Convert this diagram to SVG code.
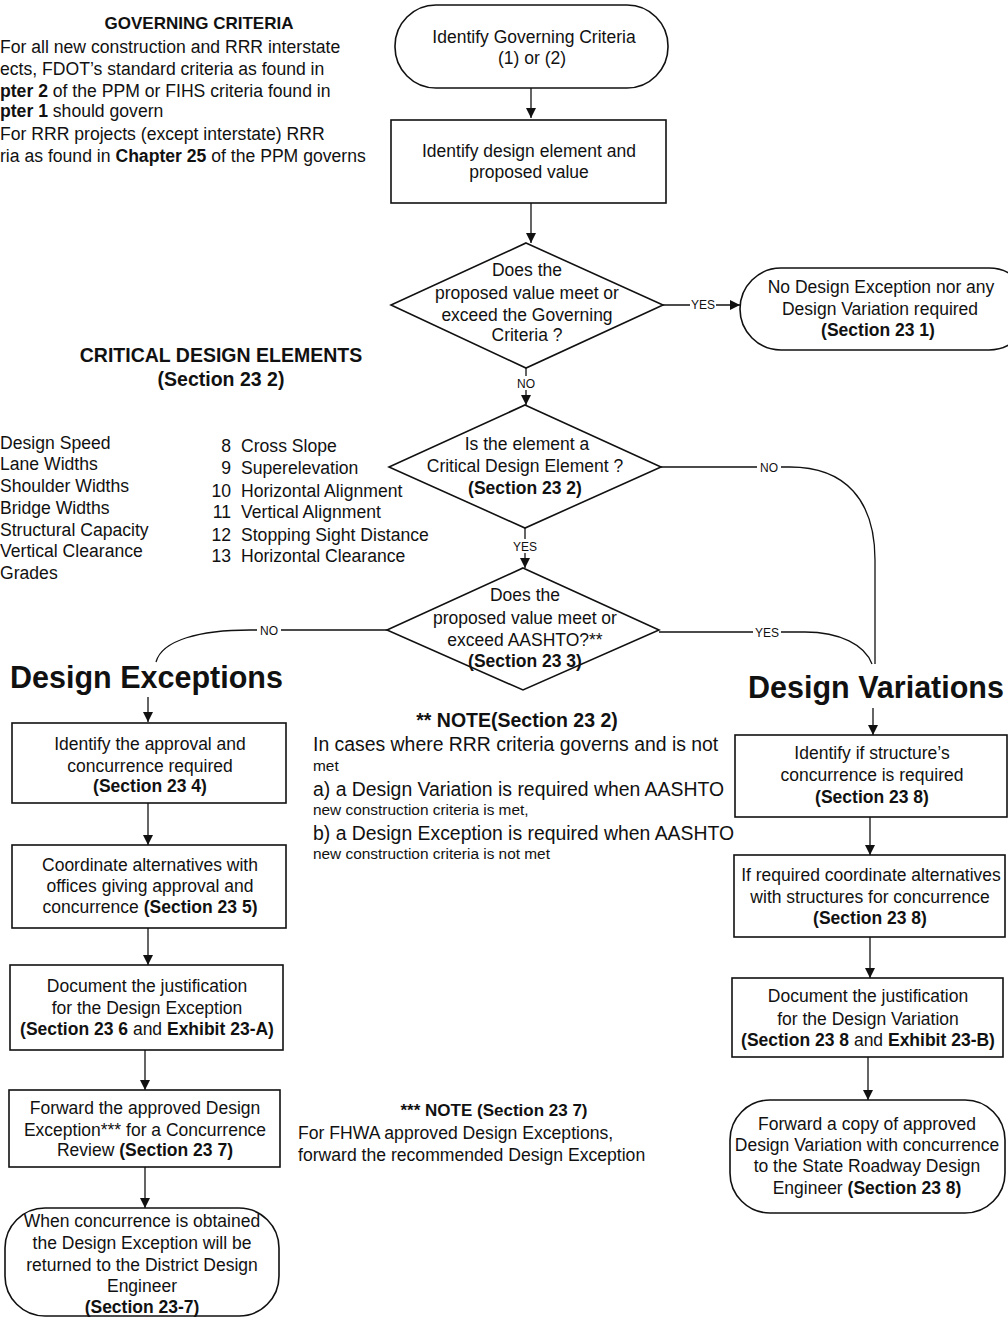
<svg xmlns="http://www.w3.org/2000/svg" width="1008" height="1318" viewBox="0 0 1008 1318">
<style>
text{font-family:"Liberation Sans",Arial,sans-serif;fill:#111;}
.n{font-size:17.5px;text-anchor:middle;}
.b{font-weight:bold;}
.h{font-size:17px;font-weight:bold;text-anchor:middle;}
.h2{font-size:19.5px;font-weight:bold;text-anchor:middle;}
.big{font-size:30.5px;font-weight:bold;}
.l{font-size:17.6px;}
.nl{font-size:19.4px;}
.s{font-size:15.4px;}
.lab{font-size:12px;text-anchor:middle;}
.box{fill:#fff;stroke:#111;stroke-width:1.6;}
.c{fill:none;stroke:#111;stroke-width:1.3;}
</style>
<defs>
<marker id="ah" viewBox="0 0 10 10" refX="10" refY="5" markerWidth="10" markerHeight="10" markerUnits="userSpaceOnUse" orient="auto">
<path d="M0,0 L10,5 L0,10 z" fill="#111"/>
</marker>
</defs>
<rect width="1008" height="1318" fill="#fff"/>

<g id="governing-criteria">
<text class="h" x="199" y="29">GOVERNING CRITERIA</text>
<text class="l" x="0" y="53">For all new construction and RRR interstate</text>
<text class="l" x="0" y="75">ects, FDOT’s standard criteria as found in</text>
<text class="l" x="0" y="97"><tspan class="b">pter 2</tspan>  of the PPM  or FIHS criteria found in</text>
<text class="l" x="0" y="117"><tspan class="b">pter 1</tspan> should govern</text>
<text class="l" x="0" y="140">For RRR projects (except interstate)  RRR</text>
<text class="l" x="0" y="162">ria as found in <tspan class="b">Chapter 25</tspan>  of the PPM governs</text>
</g>

<g id="critical-elements">
<text class="h2" x="221" y="362">CRITICAL DESIGN ELEMENTS</text>
<text class="h2" x="221" y="386">(Section 23 2)</text>
<text class="l" x="0" y="449">Design Speed</text>
<text class="l" x="0" y="470">Lane Widths</text>
<text class="l" x="0" y="492">Shoulder Widths</text>
<text class="l" x="0" y="514">Bridge Widths</text>
<text class="l" x="0" y="536">Structural Capacity</text>
<text class="l" x="0" y="557">Vertical Clearance</text>
<text class="l" x="0" y="579">Grades</text>
<text class="l" x="231" y="452" text-anchor="end">8</text><text class="l" x="241" y="452">Cross Slope</text>
<text class="l" x="231" y="474" text-anchor="end">9</text><text class="l" x="241" y="474">Superelevation</text>
<text class="l" x="231" y="497" text-anchor="end">10</text><text class="l" x="241" y="497">Horizontal Alignment</text>
<text class="l" x="231" y="518" text-anchor="end">11</text><text class="l" x="241" y="518">Vertical Alignment</text>
<text class="l" x="231" y="541" text-anchor="end">12</text><text class="l" x="241" y="541">Stopping Sight Distance</text>
<text class="l" x="231" y="562" text-anchor="end">13</text><text class="l" x="241" y="562">Horizontal Clearance</text>
</g>

<g id="connectors">
<path class="c" d="M531,88 V118" marker-end="url(#ah)"/>
<path class="c" d="M531,203 V243" marker-end="url(#ah)"/>
<path class="c" d="M663,305 H740" marker-end="url(#ah)"/>
<path class="c" d="M526,368 V405" marker-end="url(#ah)"/>
<path class="c" d="M525,528 V568" marker-end="url(#ah)"/>
<path class="c" d="M661,467 H790 C845,467 875,500 875,560 V664"/>
<path class="c" d="M659,632 H805 C840,632 865,645 872,664"/>
<path class="c" d="M387,630 H250 C200,630 162,640 156,662"/>
<path class="c" d="M148,697 V722" marker-end="url(#ah)"/>
<path class="c" d="M148,803 V845" marker-end="url(#ah)"/>
<path class="c" d="M148,928 V965" marker-end="url(#ah)"/>
<path class="c" d="M145,1050 V1090" marker-end="url(#ah)"/>
<path class="c" d="M145,1167 V1208" marker-end="url(#ah)"/>
<path class="c" d="M873,708 V735" marker-end="url(#ah)"/>
<path class="c" d="M870,817 V855" marker-end="url(#ah)"/>
<path class="c" d="M870,937 V978" marker-end="url(#ah)"/>
<path class="c" d="M868,1057 V1100" marker-end="url(#ah)"/>
<rect x="690" y="298" width="26" height="14" fill="#fff"/>
<text class="lab" x="703" y="309">YES</text>
<rect x="514" y="376" width="24" height="14" fill="#fff"/>
<text class="lab" x="526" y="388">NO</text>
<rect x="512" y="539" width="26" height="14" fill="#fff"/>
<text class="lab" x="525" y="551">YES</text>
<rect x="757" y="460" width="24" height="14" fill="#fff"/>
<text class="lab" x="769" y="472">NO</text>
<rect x="753" y="625" width="28" height="14" fill="#fff"/>
<text class="lab" x="767" y="637">YES</text>
<rect x="257" y="623" width="24" height="14" fill="#fff"/>
<text class="lab" x="269" y="635">NO</text>
</g>

<g id="n-identify-criteria">
<rect class="box" x="395" y="5" width="273" height="83" rx="41"/>
<text class="n" x="534" y="43">Identify Governing Criteria</text>
<text class="n" x="532" y="64">(1)  or   (2)</text>
</g>

<g id="n-identify-element">
<rect class="box" x="391" y="120" width="275" height="83"/>
<text class="n" x="529" y="157">Identify design element and</text>
<text class="n" x="529" y="178">proposed value</text>
</g>

<g id="d-governing">
<polygon class="box" points="526,243 663,305 526,368 391,305"/>
<text class="n" x="527" y="276">Does the</text>
<text class="n" x="527" y="299">proposed value meet or</text>
<text class="n" x="527" y="321">exceed the Governing</text>
<text class="n" x="527" y="341">Criteria ?</text>
</g>

<g id="n-no-exception">
<rect class="box" x="740" y="268" width="290" height="82" rx="41"/>
<text class="n" x="881" y="293">No Design Exception nor any</text>
<text class="n" x="880" y="315">Design Variation required</text>
<text class="n b" x="878" y="336">(Section 23 1)</text>
</g>

<g id="d-critical">
<polygon class="box" points="525,405 661,467 525,528 389,467"/>
<text class="n" x="527" y="450">Is the element a</text>
<text class="n" x="525" y="472">Critical Design Element ?</text>
<text class="n b" x="525" y="494">(Section 23 2)</text>
</g>

<g id="d-aashto">
<polygon class="box" points="523,568 659,630 523,690 387,630"/>
<text class="n" x="525" y="601">Does the</text>
<text class="n" x="525" y="624">proposed value meet or</text>
<text class="n" x="525" y="646">exceed AASHTO?**</text>
<text class="n b" x="525" y="667">(Section 23 3)</text>
</g>

<g id="t-design-exceptions">
<text class="big" x="10" y="688">Design Exceptions</text>
</g>
<g id="t-design-variations">
<text class="big" x="748" y="698">Design Variations</text>
</g>

<g id="n-de-1">
<rect class="box" x="12" y="723" width="274" height="80"/>
<text class="n" x="150" y="750">Identify the approval and</text>
<text class="n" x="150" y="772">concurrence required</text>
<text class="n b" x="150" y="792">(Section 23 4)</text>
</g>
<g id="n-de-2">
<rect class="box" x="12" y="845" width="274" height="83"/>
<text class="n" x="150" y="871">Coordinate alternatives with</text>
<text class="n" x="150" y="892">offices giving approval and</text>
<text class="n" x="150" y="913">concurrence  <tspan class="b">(Section 23 5)</tspan></text>
</g>
<g id="n-de-3">
<rect class="box" x="10" y="965" width="273" height="85"/>
<text class="n" x="147" y="992">Document the justification</text>
<text class="n" x="147" y="1014">for the Design Exception</text>
<text class="n" x="147" y="1035"><tspan class="b">(Section 23 6</tspan> and <tspan class="b">Exhibit 23-A)</tspan></text>
</g>
<g id="n-de-4">
<rect class="box" x="9" y="1090" width="271" height="77"/>
<text class="n" x="145" y="1114">Forward the approved  Design</text>
<text class="n" x="145" y="1136">Exception*** for a Concurrence</text>
<text class="n" x="145" y="1156">Review  <tspan class="b">(Section 23 7)</tspan></text>
</g>
<g id="n-de-5">
<rect class="box" x="5" y="1208" width="274" height="108" rx="40"/>
<text class="n" x="142" y="1227">When concurrence is obtained</text>
<text class="n" x="142" y="1249">the  Design Exception will be</text>
<text class="n" x="142" y="1271">returned to the District Design</text>
<text class="n" x="142" y="1292">Engineer</text>
<text class="n b" x="142" y="1313">(Section 23-7)</text>
</g>

<g id="n-dv-1">
<rect class="box" x="735" y="735" width="272" height="82"/>
<text class="n" x="872" y="759">Identify if structure’s</text>
<text class="n" x="872" y="781">concurrence is required</text>
<text class="n b" x="872" y="803">(Section 23 8)</text>
</g>
<g id="n-dv-2">
<rect class="box" x="734" y="855" width="271" height="82"/>
<text class="n" x="871" y="881">If required coordinate alternatives</text>
<text class="n" x="870" y="903">with structures for concurrence</text>
<text class="n b" x="870" y="924">(Section 23 8)</text>
</g>
<g id="n-dv-3">
<rect class="box" x="732" y="978" width="271" height="79"/>
<text class="n" x="868" y="1002">Document the justification</text>
<text class="n" x="868" y="1025">for the Design Variation</text>
<text class="n" x="868" y="1046"><tspan class="b">(Section 23 8</tspan> and <tspan class="b">Exhibit 23-B)</tspan></text>
</g>
<g id="n-dv-4">
<rect class="box" x="730" y="1100" width="275" height="113" rx="40"/>
<text class="n" x="867" y="1130">Forward a copy of approved</text>
<text class="n" x="867" y="1151">Design Variation with concurrence</text>
<text class="n" x="867" y="1172">to the State Roadway Design</text>
<text class="n" x="867" y="1194">Engineer  <tspan class="b">(Section 23 8)</tspan></text>
</g>

<g id="note-1">
<text class="h2" x="517" y="727">** NOTE(Section 23 2)</text>
<text class="nl" x="313" y="751">In cases where  RRR criteria governs and is not</text>
<text class="s" x="313" y="771">met</text>
<text class="nl" x="313" y="796">a) a Design Variation is required when AASHTO</text>
<text class="s" x="313" y="815">new construction criteria is met,</text>
<text class="nl" x="313" y="840">b) a Design Exception is required when AASHTO</text>
<text class="s" x="313" y="859">new construction criteria is not met</text>
</g>

<g id="note-2">
<text class="h" x="494" y="1116">*** NOTE (Section 23 7)</text>
<text class="l" x="298" y="1139">For FHWA approved Design Exceptions,</text>
<text class="l" x="298" y="1161">forward the recommended Design Exception</text>
</g>
</svg>
